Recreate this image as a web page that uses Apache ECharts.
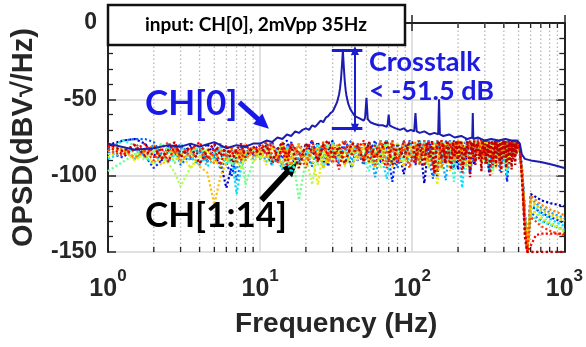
<!DOCTYPE html>
<html>
<head>
<meta charset="utf-8">
<script src="https://cdn.jsdelivr.net/npm/echarts@6/dist/echarts.min.js"></script>
<style>html,body{margin:0;padding:0;background:#fff}#c{width:586px;height:347px}</style>
</head>
<body>
<div id="c"></div>
<script>
// ---------- data ----------
const FREQ_CH0 = [1,1.5,2,2.5,3,3.5,4,5,6,7,8,9,10,11,12,13,14,15,16,17,18,19,20,21,22,23,24,25,26,27,28,29,30,31,32,33,33.5,34,34.5,35,35.5,36,36.5,37,38,39,40,42,44,46,48,49,50,51,53,56,60,64,68,69,70,71,74,78,83,88,93,98,103,105,107,112,120,130,140,148,150,152,160,175,190,210,230,248,250,252,270,300,330,370,410,450,490,510,525,550,600,700,850,1000];
const OPSD_CH0 = [-79,-83,-82,-80,-81,-79,-81,-78,-82,-80,-81,-79,-79,-77,-78,-75,-76,-73,-74,-71,-72,-70,-69,-70,-67,-68,-66,-64,-65,-62,-61,-59,-58,-55,-52,-47,-43,-37,-28,-18,-29,-38,-44,-48,-53,-56,-58,-61,-62,-63,-64,-62,-49,-63,-65,-66,-67,-67,-68,-66,-60,-67,-68,-69,-70,-69,-71,-70,-71,-59,-71,-72,-71,-73,-72,-73,-50,-73,-74,-73,-75,-74,-76,-75,-59,-76,-75,-77,-76,-77,-76,-77,-77,-79,-86,-89,-90,-91,-93,-95];

const FREQ_CH = [1,1.25,1.5,1.75,2,2.25,2.5,2.75,3,3.5,4,4.5,5,5.5,6,6.5,7,7.5,8,9,
  10,11,12,13,14,15,16,18,20,22,24,26,28,30,33,36,40,
  44,48,52,57,62,68,74,80,88,96,
  105,112,120,128,137,146,156,166,177,188,200,213,226,240,255,270,286,303,320,338,357,377,398,420,443,466,490,
  510,530,550,570,
  600,650,700,800,900,1000];

// CH14 has a finer frequency grid above 100 Hz
const FREQ_CH14 = [1,1.25,1.5,1.75,2,2.25,2.5,2.75,3,3.5,4,4.5,5,5.5,6,6.5,7,7.5,8,9,
  10,11,12,13,14,15,16,18,20,22,24,26,28,30,33,36,40,
  44,48,52,57,62,68,74,80,88,96,
  100,105,110,115,120,125,130,135,140,145,150,155,160,165,170,175,180,185,190,195,
  200,205,210,215,220,225,230,235,240,245,250,255,260,265,270,275,280,285,290,295,
  300,305,310,315,320,325,330,335,340,345,350,355,360,365,370,375,380,385,390,395,
  400,405,410,415,420,425,430,435,440,445,450,455,460,465,470,475,480,485,490,495,
  510,530,550,570,
  600,650,700,800,900,1000];

const CH1 = [-80,-77,-76,-79,-86,-90,-84,-81,-87,-80,-85,-79,-88,-92,-108,-94,-83,-89,-80,-86,
  -84,-78,-88,-91,-80,-77,-89,-93,-79,-86,-78,-92,-84,-77,-90,-81,-95,
  -79,-90,-78,-93,-84,-77,-91,-80,-99,-79,
  -88,-78,-105,-80,-91,-77,-94,-79,-89,-77,-96,-78,-90,-77,-93,-80,-87,-76,-98,-78,-89,-77,-92,-78,-86,-77,-80,
  -82,-98,-124,-150, -112,-114,-116,-118,-119,-120];
const CH2 = [-85,-88,-82,-87,-95,-90,-80,-86,-82,-89,-84,-91,-80,-86,-92,-100,-88,-81,-90,-83,
  -80,-87,-93,-81,-89,-84,-78,-91,-85,-77,-90,-82,-94,-79,-87,-77,-86,
  -90,-78,-85,-77,-92,-81,-104,-79,-88,-77,
  -93,-78,-87,-77,-86,-101,-78,-91,-77,-94,-79,-88,-76,-99,-78,-90,-76,-86,-79,-95,-77,-89,-78,-104,-77,-86,-79,
  -83,-100,-126,-150, -120,-122,-124,-127,-129,-131];
const CH3 = [-83,-77,-76,-76,-78,-86,-90,-81,-93,-86,-82,-90,-85,-96,-87,-83,-103,-91,-85,-81,
  -89,-82,-78,-87,-93,-80,-89,-79,-86,-94,-80,-90,-77,-85,-92,-81,-77,
  -85,-93,-79,-88,-77,-91,-81,-95,-78,-86,
  -79,-90,-77,-88,-102,-78,-92,-77,-86,-95,-78,-89,-77,-91,-79,-87,-76,-93,-78,-88,-77,-97,-78,-89,-77,-85,-80,
  -84,-102,-128,-150, -124,-127,-129,-132,-134,-135];
const CH4 = [-86,-82,-89,-84,-80,-87,-91,-84,-79,-88,-93,-83,-88,-81,-86,-92,-96,-87,-83,-89,
  -83,-91,-80,-88,-96,-83,-79,-90,-84,-93,-80,-86,-91,-78,-87,-81,-90,
  -80,-89,-78,-101,-83,-90,-77,-87,-81,-92,
  -86,-77,-90,-80,-93,-78,-87,-103,-79,-91,-77,-85,-94,-78,-88,-76,-86,-79,-96,-77,-89,-78,-91,-77,-87,-78,-80,
  -83,-99,-125,-150, -115,-118,-121,-124,-126,-128];
const CH5 = [-89,-85,-83,-88,-92,-86,-81,-88,-84,-90,-85,-94,-88,-83,-92,-87,-112,-95,-87,-83,
  -88,-82,-93,-85,-80,-90,-98,-84,-92,-81,-88,-79,-91,-84,-82,-93,-79,
  -89,-81,-92,-79,-86,-102,-80,-89,-77,-86,
  -80,-91,-77,-89,-82,-94,-78,-87,-77,-90,-83,-108,-78,-90,-77,-87,-76,-85,-79,-97,-77,-88,-78,-100,-77,-86,-79,
  -84,-101,-127,-150, -118,-121,-125,-128,-131,-133];
const CH6 = [-84,-77,-80,-88,-85,-79,-84,-92,-82,-87,-80,-91,-85,-82,-93,-87,-84,-95,-89,-84,
  -87,-80,-91,-84,-95,-81,-87,-93,-83,-89,-79,-95,-86,-78,-90,-83,-94,
  -82,-88,-97,-79,-87,-77,-93,-81,-89,-78,
  -90,-78,-86,-95,-77,-90,-81,-93,-78,-104,-77,-89,-80,-94,-77,-87,-78,-91,-77,-86,-79,-93,-77,-88,-78,-86,-80,
  -85,-103,-129,-150, -126,-128,-130,-132,-134,-136];
const CH7 = [-97,-91,-86,-82,-84,-79,-83,-87,-91,-85,-81,-88,-84,-90,-85,-93,-87,-83,-106,-91,
  -86,-80,-89,-83,-92,-85,-80,-116,-89,-82,-93,-85,-79,-90,-83,-92,-85,
  -80,-90,-83,-94,-86,-78,-89,-82,-93,-85,
  -82,-92,-78,-90,-85,-95,-78,-89,-82,-93,-77,-86,-96,-79,-90,-77,-87,-78,-92,-77,-88,-79,-94,-77,-86,-78,-80,
  -84,-102,-128,-150, -121,-124,-127,-130,-133,-135];
const CH8 = [-86,-81,-85,-90,-83,-88,-92,-98,-107,-94,-87,-82,-90,-85,-80,-87,-93,-84,-90,-83,
  -89,-82,-91,-85,-79,-88,-94,-81,-88,-106,-83,-91,-80,-89,-79,-94,-84,
  -90,-81,-92,-84,-95,-80,-89,-78,-93,-83,
  -80,-92,-84,-78,-90,-81,-96,-83,-78,-90,-80,-93,-77,-89,-82,-86,-77,-91,-78,-99,-77,-88,-79,-92,-77,-85,-79,
  -85,-104,-130,-150, -117,-120,-123,-126,-128,-130];
const CH9 = [-88,-83,-90,-85,-93,-87,-82,-91,-85,-95,-88,-83,-90,-94,-85,-82,-88,-96,-84,-91,
  -84,-93,-81,-88,-79,-91,-85,-95,-81,-88,-106,-83,-92,-80,-88,-84,-95,
  -84,-79,-92,-81,-89,-78,-95,-84,-80,-90,
  -78,-89,-81,-95,-77,-106,-83,-78,-92,-80,-89,-77,-86,-94,-78,-90,-77,-87,-78,-93,-77,-89,-78,-96,-77,-86,-79,
  -86,-104,-131,-150, -122,-125,-128,-131,-134,-137];
const CH10 = [-81,-84,-89,-82,-86,-93,-88,-83,-91,-85,-94,-98,-119,-100,-91,-86,-82,-90,-84,-88,
  -82,-89,-80,-86,-94,-82,-89,-79,-92,-85,-81,-95,-88,-79,-86,-93,-81,
  -89,-79,-86,-95,-81,-90,-78,-86,-94,-80,
  -90,-78,-86,-93,-79,-89,-77,-85,-97,-78,-90,-81,-94,-77,-86,-78,-91,-77,-88,-79,-95,-77,-87,-78,-90,-77,-79,
  -84,-101,-127,-150, -116,-119,-122,-125,-127,-129];
const CH11 = [-79,-83,-88,-84,-80,-89,-84,-81,-90,-84,-79,-87,-92,-83,-89,-80,-86,-83,-90,-81,
  -86,-80,-90,-83,-78,-87,-93,-80,-89,-83,-86,-78,-91,-83,-79,-88,-78,
  -84,-91,-79,-87,-77,-94,-82,-90,-79,-87,
  -78,-88,-80,-91,-84,-77,-95,-82,-78,-91,-77,-87,-83,-92,-77,-85,-77,-89,-78,-93,-77,-90,-79,-87,-77,-84,-78,
  -83,-100,-126,-150, -113,-116,-119,-122,-124,-126];
const CH12 = [-83,-87,-79,-84,-90,-82,-78,-85,-80,-88,-83,-91,-85,-79,-88,-82,-92,-84,-79,-87,
  -82,-78,-86,-92,-81,-88,-79,-85,-95,-81,-89,-78,-85,-92,-80,-77,-86,
  -79,-89,-81,-93,-78,-86,-77,-90,-82,-95,
  -80,-93,-77,-88,-81,-97,-77,-85,-92,-78,-89,-80,-86,-77,-91,-78,-83,-92,-77,-88,-76,-94,-77,-86,-78,-90,-78,
  -84,-103,-130,-150, -127,-130,-133,-136,-138,-139];
const CH13 = [-81,-86,-83,-79,-88,-82,-91,-80,-85,-83,-78,-89,-82,-93,-80,-86,-83,-90,-80,-85,
  -80,-86,-78,-90,-82,-94,-79,-86,-83,-77,-91,-80,-87,-82,-96,-79,-86,
  -82,-77,-91,-80,-87,-95,-79,-92,-77,-86,
  -92,-78,-87,-77,-96,-82,-77,-91,-79,-88,-77,-98,-83,-77,-90,-79,-76,-89,-78,-93,-77,-87,-76,-91,-78,-84,-77,
  -83,-105,-135,-150, -146,-139,-138,-138,-138,-138];
const CH14 = [-79,-84,-80,-87,-81,-89,-83,-78,-88,-81,-92,-84,-79,-87,-81,-90,-83,-79,-88,-81,
  -86,-80,-91,-83,-78,-88,-81,-95,-79,-84,-90,-80,-77,-88,-81,-92,-79,
  -81,-91,-78,-88,-83,-77,-93,-80,-88,-78,
  -78,-90,-77,-86,-94,-78,-88,-77,-99,-80,-77,-89,-79,-92,-77,-85,-96,-78,-87,-77,
  -91,-79,-77,-95,-81,-88,-77,-84,-101,-78,-86,-77,-93,-80,-77,-89,-83,-97,-77,-85,
  -79,-92,-77,-87,-78,-100,-80,-77,-90,-84,-77,-94,-79,-86,-77,-91,-78,-98,-80,-77,
  -88,-83,-77,-95,-79,-87,-77,-92,-78,-85,-96,-77,-89,-80,-77,-93,-79,-86,-77,-80,
  -82,-106,-140,-150, -150,-150,-150,-150,-150,-150];

const CHANNELS = [CH1,CH2,CH3,CH4,CH5,CH6,CH7,CH8,CH9,CH10,CH11,CH12,CH13,CH14];
const CH_FREQS = [FREQ_CH,FREQ_CH,FREQ_CH,FREQ_CH,FREQ_CH,FREQ_CH,FREQ_CH,FREQ_CH,FREQ_CH,FREQ_CH,FREQ_CH,FREQ_CH,FREQ_CH,FREQ_CH14];
const CH_COLORS = ['#0000c8','#0028ff','#0068ff','#00a8ff','#00e0ff','#30ffd0','#70ff90','#b0ff50','#ecec00','#ffc000','#ff8000','#ff4000','#ff0000','#c00000'];
const X_MINOR = [2,3,4,5,6,7,8,9,20,30,40,50,60,70,80,90,200,300,400,500,600,700,800,900];
const Y_TICK_STEP = 50;
const TITLE_TEXT = 'input: CH[0], 2mVpp 35Hz';

// ---------- chart ----------
const chart = echarts.init(document.getElementById('c'), null, {renderer:'canvas'});
const AX = '#262626';
const axFont = 'Liberation Sans, Arial, sans-serif';
const annFont = 'Lato, Noto Sans, sans-serif';

const series = [];
series.push({
  type:'custom', silent:true, z:1, clip:false,
  data: X_MINOR.map(v=>[v]),
  renderItem:(params, api)=>{
    const x = api.value(0);
    const pb = api.coord([x,-150]), pt = api.coord([x,0]);
    return {type:'group', children:[
      {type:'line', shape:{x1:pb[0],y1:pb[1],x2:pt[0],y2:pt[1]}, style:{stroke:'#b8b8b8', lineWidth:1.3, lineDash:[1.5,2.5]}},
      {type:'line', shape:{x1:pb[0],y1:pb[1],x2:pb[0],y2:pb[1]-5}, style:{stroke:'#222', lineWidth:1.3}},
      {type:'line', shape:{x1:pt[0],y1:pt[1],x2:pt[0],y2:pt[1]+5}, style:{stroke:'#222', lineWidth:1.3}}
    ]};
  }
});
CHANNELS.forEach((vals, k)=>{
  const fr = CH_FREQS[k];
  const s = {
    type:'line', name:'CH'+(k+1), showSymbol:false, symbol:'none', z:2+k,
    data: fr.map((f,i)=>[f, vals[i]]),
    lineStyle:{color:CH_COLORS[k], width: k === CHANNELS.length-1 ? 2.4 : 2.2, type:'dotted'},
    clip:true
  };
  if (k === CHANNELS.length-1) {
    s.markLine = {
      silent:true, symbol:['none','triangle'], symbolSize:[14,16],
      lineStyle:{color:'#000', width:6, type:'solid'}, label:{show:false},
      data:[[{coord:[10.2,-116]},{coord:[16.3,-94]}]]
    };
  }
  series.push(s);
});
series.push({
  type:'line', name:'CH0', showSymbol:false, symbol:'none', z:30,
  data: FREQ_CH0.map((f,i)=>[f, OPSD_CH0[i]]),
  lineStyle:{color:'#1c1cb0', width:2},
  markLine:{
    silent:true, symbol:'none', label:{show:false},
    lineStyle:{color:'#1c1cd0', width:3, type:'solid'},
    data:[
      [{coord:[29.6,-18]},{coord:[47,-18]}],
      [{coord:[29.6,-69]},{coord:[47,-69]}],
      [{coord:[42,-18], symbol:'triangle', symbolSize:[8,9], lineStyle:{width:2}},{coord:[42,-69], symbol:'triangle', symbolSize:[8,9]}],
      [{coord:[7.3,-52], lineStyle:{width:5, color:'#1818e8'}},{coord:[10.5,-66], symbol:'triangle', symbolSize:[14,15]}]
    ]
  }
});

chart.setOption({
  animation:false,
  backgroundColor:'#fff',
  grid:{left:108, top:23, width:457, height:229},
  xAxis:[{
    type:'log', logBase:10, min:1, max:1000, splitNumber:3,
    axisLine:{show:true, lineStyle:{color:'#222', width:2}},
    axisTick:{show:true, inside:true, length:8, lineStyle:{color:'#222', width:1.5}},
    splitLine:{show:true, lineStyle:{color:'#d6d6d6', width:1.5}},
    axisLabel:{
      margin:16,
      formatter: v => '{b|10}{s|' + Math.round(Math.log10(v)) + '}',
      rich:{
        b:{fontSize:25, fontWeight:'bold', fontFamily:axFont, color:AX, verticalAlign:'bottom', lineHeight:34},
        s:{fontSize:17, fontWeight:'bold', fontFamily:axFont, color:AX, verticalAlign:'top', lineHeight:34}
      }
    },
    name:'Frequency (Hz)', nameLocation:'middle', nameGap:58,
    nameTextStyle:{fontSize:28, fontWeight:'bold', fontFamily:axFont, color:AX}
  },{
    type:'log', logBase:10, min:1, max:1000, splitNumber:3, position:'top',
    axisLine:{show:true, lineStyle:{color:'#222', width:2}},
    axisTick:{show:true, inside:true, length:8, lineStyle:{color:'#222', width:1.5}},
    axisLabel:{show:false}, splitLine:{show:false}
  }],
  yAxis:[{
    type:'value', min:-150, max:0, interval:Y_TICK_STEP,
    axisLine:{show:true, lineStyle:{color:'#222', width:2}},
    axisTick:{show:true, inside:true, length:8, lineStyle:{color:'#222', width:1.5}},
    minorTick:{show:true, splitNumber:5, length:5, lineStyle:{color:'#222', width:1.3}},
    splitLine:{show:true, lineStyle:{color:'#d6d6d6', width:1.5}},
    axisLabel:{margin:11, fontSize:23, fontWeight:'bold', fontFamily:axFont, color:AX},
    name:'OPSD(dBV√/Hz)', nameLocation:'middle', nameGap:70, nameRotate:90,
    nameTextStyle:{fontSize:29, fontWeight:'bold', fontFamily:axFont, color:AX}
  },{
    type:'value', min:-150, max:0, interval:Y_TICK_STEP, position:'right',
    axisLine:{show:true, lineStyle:{color:'#222', width:2}},
    axisTick:{show:true, inside:true, length:8, lineStyle:{color:'#222', width:1.5}},
    minorTick:{show:true, splitNumber:5, length:5, lineStyle:{color:'#222', width:1.3}},
    axisLabel:{show:false}, splitLine:{show:false}
  }],
  series: series,
  graphic:[
    {type:'rect', z:100, shape:{x:108, y:5, width:297, height:40}, style:{fill:'#fff', stroke:'#111', lineWidth:2.5}},
    {type:'text', z:101, x:256, y:25, style:{text:TITLE_TEXT, fontSize:19, fontWeight:'bold', fontFamily:annFont, fill:'#000', align:'center', verticalAlign:'middle'}},
    {type:'text', z:101, x:145, y:104, style:{text:'CH[0]', fontSize:35, fontWeight:'bold', fontFamily:annFont, fill:'#1818e8', align:'left', verticalAlign:'middle'}},
    {type:'text', z:101, x:369, y:62, style:{text:'Crosstalk', fontSize:27, fontWeight:'bold', fontFamily:annFont, fill:'#1c1ce0', align:'left', verticalAlign:'middle'}},
    {type:'text', z:101, x:369, y:91, style:{text:'< -51.5 dB', fontSize:27, fontWeight:'bold', fontFamily:annFont, fill:'#1c1ce0', align:'left', verticalAlign:'middle'}},
    {type:'text', z:101, x:145, y:216, style:{text:'CH[1:14]', fontSize:35, fontWeight:'bold', fontFamily:annFont, fill:'#000', align:'left', verticalAlign:'middle'}}
  ]
});
</script>
</body>
</html>
